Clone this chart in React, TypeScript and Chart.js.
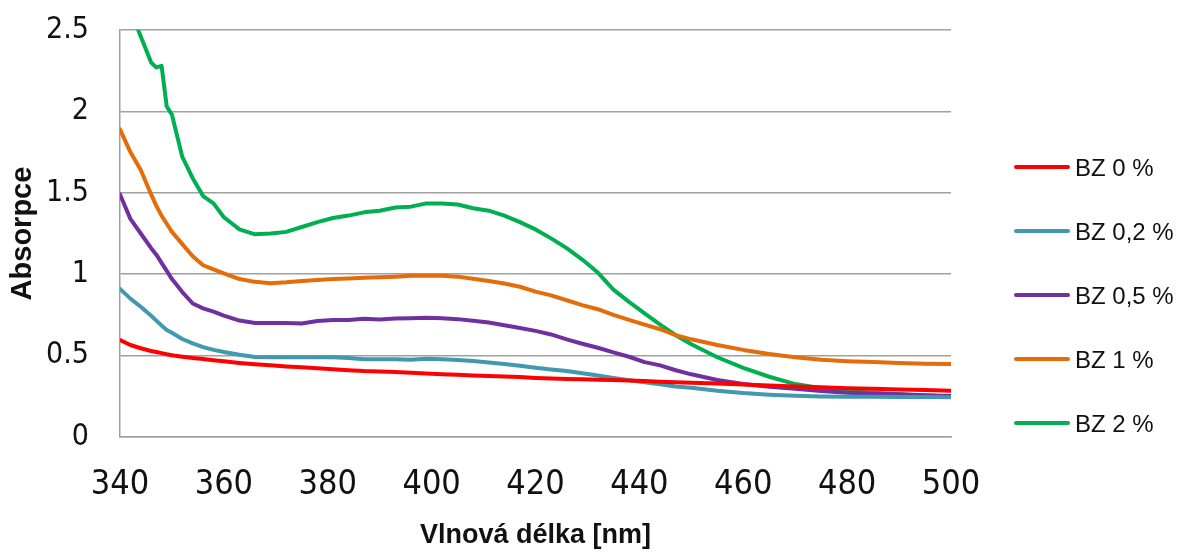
import React, { useEffect, useRef } from "react";
import { Chart, registerables } from "chart.js";

Chart.register(...registerables);

// Wavelengths (nm)
const wavelengths = [340, 342, 344, 346, 347, 348, 349, 350, 352, 354, 356, 358, 360, 363, 366, 369, 372, 375, 378, 381, 384, 387, 390, 393, 396, 399, 402, 405, 408, 411, 414, 417, 420, 423, 426, 429, 432, 435, 438, 441, 444, 447, 450, 455, 460, 465, 470, 475, 480, 485, 490, 495, 500];

const seriesLabels = ["BZ 0 %", "BZ 0,2 %", "BZ 0,5 %", "BZ 1 %", "BZ 2 %"];
const seriesColors = ["#FF0000", "#4198AF", "#7030A0", "#E46C0A", "#00B050"];

const bz0 = [0.596, 0.565, 0.545, 0.528, 0.522, 0.515, 0.508, 0.502, 0.493, 0.485, 0.479, 0.472, 0.465, 0.455, 0.447, 0.44, 0.433, 0.428, 0.422, 0.416, 0.41, 0.405, 0.403, 0.4, 0.395, 0.39, 0.386, 0.382, 0.378, 0.375, 0.372, 0.368, 0.363, 0.36, 0.357, 0.354, 0.352, 0.35, 0.347, 0.344, 0.34, 0.336, 0.333, 0.328, 0.322, 0.317, 0.31, 0.305, 0.3, 0.296, 0.292, 0.288, 0.284];
const bz02 = [0.91, 0.85, 0.8, 0.745, 0.715, 0.685, 0.657, 0.64, 0.602, 0.575, 0.552, 0.535, 0.522, 0.505, 0.492, 0.49, 0.49, 0.49, 0.49, 0.49, 0.485, 0.478, 0.478, 0.477, 0.474, 0.48, 0.477, 0.473, 0.467, 0.458, 0.448, 0.437, 0.425, 0.415, 0.405, 0.392, 0.378, 0.362, 0.348, 0.336, 0.324, 0.31, 0.302, 0.284, 0.27, 0.26, 0.253, 0.249, 0.248, 0.247, 0.246, 0.245, 0.244];
const bz05 = [1.49, 1.34, 1.25, 1.16, 1.12, 1.07, 1.02, 0.97, 0.89, 0.82, 0.79, 0.77, 0.745, 0.715, 0.7, 0.7, 0.7, 0.697, 0.712, 0.718, 0.718, 0.726, 0.722, 0.728, 0.73, 0.733, 0.73, 0.724, 0.714, 0.703, 0.686, 0.67, 0.652, 0.63, 0.6, 0.573, 0.548, 0.52, 0.493, 0.46, 0.44, 0.41, 0.385, 0.35, 0.325, 0.308, 0.297, 0.282, 0.272, 0.266, 0.262, 0.257, 0.252];
const bz1 = [1.89, 1.75, 1.64, 1.49, 1.42, 1.36, 1.31, 1.26, 1.185, 1.11, 1.055, 1.03, 1.005, 0.97, 0.953, 0.945, 0.95, 0.958, 0.965, 0.97, 0.973, 0.978, 0.982, 0.985, 0.99, 0.99, 0.99, 0.985, 0.972, 0.958, 0.943, 0.923, 0.893, 0.87, 0.84, 0.81, 0.785, 0.75, 0.72, 0.69, 0.662, 0.625, 0.6, 0.565, 0.535, 0.51, 0.49, 0.475, 0.466, 0.46, 0.455, 0.45, 0.448];
const bz2 = [2.85, 2.62, 2.46, 2.3, 2.27, 2.28, 2.03, 1.98, 1.72, 1.59, 1.48, 1.435, 1.35, 1.275, 1.245, 1.25, 1.26, 1.29, 1.32, 1.345, 1.36, 1.38, 1.39, 1.41, 1.415, 1.435, 1.435, 1.428, 1.405, 1.39, 1.36, 1.32, 1.275, 1.22, 1.16, 1.09, 1.01, 0.905, 0.83, 0.76, 0.69, 0.625, 0.57, 0.49, 0.425, 0.37, 0.325, 0.3, 0.285, 0.272, 0.262, 0.255, 0.248];

const seriesValues = [bz0, bz02, bz05, bz1, bz2];

const xMin = 340;
const xMax = 500;
const xStep = 20;
const yMin = 0;
const yMax = 2.5;
const yStep = 0.5;

const xTitle = "Vlnová délka [nm]";
const yTitle = "Absorpce";

const NARROW = "'Liberation Sans Narrow', 'DejaVu Sans Condensed', 'Liberation Sans', sans-serif";
const SANS = "'Liberation Sans', Arial, sans-serif";

const legendPlugin = {
  id: "customLegend",
  afterDraw(chart: any) {
    const ctx = chart.ctx;
    const top = 167;
    const gap = 64;
    ctx.save();
    chart.data.datasets.forEach((ds: any, i: number) => {
      const y = top + i * gap;
      ctx.strokeStyle = ds.borderColor;
      ctx.lineWidth = 4;
      ctx.lineCap = "round";
      ctx.beginPath();
      ctx.moveTo(1016, y);
      ctx.lineTo(1068, y);
      ctx.stroke();
      ctx.fillStyle = "#111";
      ctx.font = `24px ${SANS}`;
      ctx.textAlign = "left";
      ctx.textBaseline = "middle";
      ctx.fillText(ds.label, 1075, y + 2);
    });
    ctx.restore();
  },
};

export default function App() {
  const canvasRef = useRef<HTMLCanvasElement | null>(null);

  useEffect(() => {
    document.body.style.margin = "0";
    const canvas = canvasRef.current;
    if (!canvas) return;
    const datasets = seriesLabels.map((label, i) => ({
      label,
      data: wavelengths.map((w, j) => ({ x: w, y: seriesValues[i][j] })),
      borderColor: seriesColors[i],
      backgroundColor: seriesColors[i],
      borderWidth: 4,
      pointRadius: 0,
      tension: 0,
      borderCapStyle: "round" as const,
      borderJoinStyle: "round" as const,
      fill: false,
    }));

    const chart = new Chart(canvas, {
      type: "line",
      data: { datasets },
      plugins: [legendPlugin],
      options: {
        animation: false,
        responsive: false,
        devicePixelRatio: 1,
        layout: { padding: { top: 30, right: 235, left: 0, bottom: 0 } },
        plugins: {
          legend: { display: false },
          tooltip: { enabled: false },
        },
        scales: {
          x: {
            type: "linear",
            min: xMin,
            max: xMax,
            afterFit: (scale: any) => {
              scale.height = 118;
              scale.paddingLeft = 0;
              scale.paddingRight = 0;
            },
            ticks: {
              stepSize: xStep,
              padding: 28,
              color: "#111",
              font: { family: NARROW, size: 34 },
              maxRotation: 0,
              callback: (v: any) => String(v),
            },
            grid: { display: false, drawTicks: false },
            border: { display: true, color: "#a0a0a0", width: 1.5 },
            title: {
              display: true,
              text: xTitle,
              color: "#111",
              font: { family: SANS, size: 27, weight: "bold" },
              padding: { top: 0, bottom: 3 },
            },
          },
          y: {
            min: yMin,
            max: yMax,
            afterFit: (scale: any) => {
              scale.width = 120;
              scale.paddingTop = 0;
              scale.paddingBottom = 0;
            },
            ticks: {
              stepSize: yStep,
              padding: 31,
              color: "#111",
              font: { family: NARROW, size: 30 },
              callback: (v: any) => String(v),
            },
            grid: { display: true, drawTicks: false, color: "#a0a0a0", lineWidth: 1.5 },
            border: { display: true, color: "#a0a0a0", width: 1.5 },
            title: {
              display: true,
              text: yTitle,
              color: "#111",
              font: { family: SANS, size: 29, weight: "bold" },
              padding: { top: 6, bottom: 0 },
            },
          },
        },
      },
    });
    return () => chart.destroy();
  }, []);

  return (
    <div style={{ width: 1186, height: 555 }}>
      <canvas ref={canvasRef} width={1186} height={555} style={{ display: "block" }} />
    </div>
  );
}
